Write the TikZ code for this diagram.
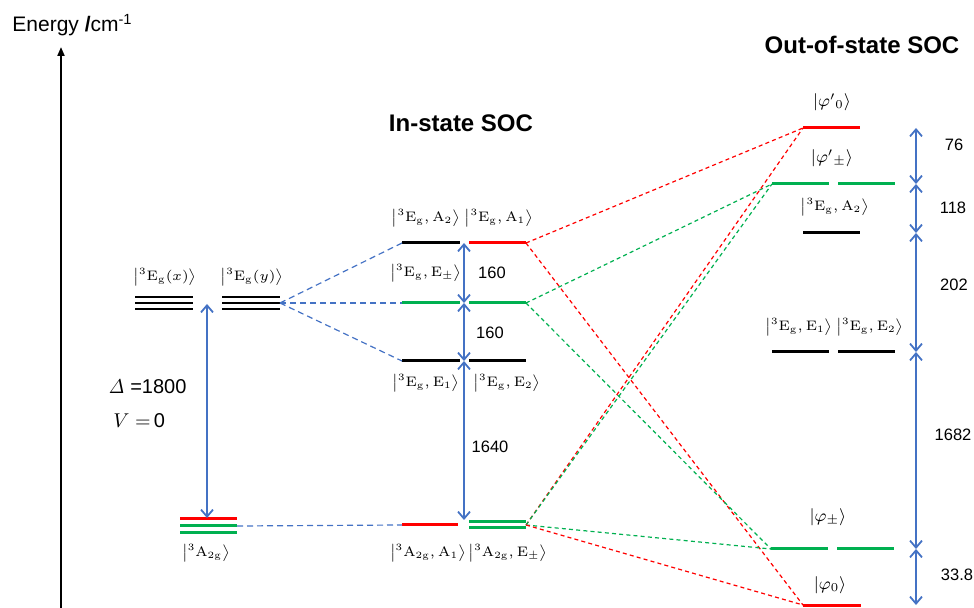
\RequirePackage{fix-cm}
\documentclass[tikz,border=0pt]{standalone}
\usepackage{exscale}
\usepackage[no-math]{fontspec}
\setmainfont{Liberation Sans}
\usetikzlibrary{arrows.meta,calc}
\definecolor{lvred}{RGB}{255,0,0}
\definecolor{lvgreen}{RGB}{0,176,80}
\definecolor{lvblue}{RGB}{68,114,196}
\newcommand{\stket}[1]{\ensuremath{\left|#1\right\rangle}}
\newcommand{\eg}{{}^{3}\mathrm{E}_{\mathrm{g}}}
\newcommand{\atg}{{}^{3}\mathrm{A}_{2\mathrm{g}}}
\tikzset{
  level/.style={line width=1.5pt},
  trilevel/.style={line width=1.2pt},
  gaparrow/.style={lvblue, line width=0.9pt,
    {Straight Barb[length=3.5pt,width=6pt]}-{Straight Barb[length=3.5pt,width=6pt]}},
  link/.style={line width=0.6pt, dash pattern=on 2pt off 1.6pt},
  bluelink/.style={lvblue, line width=0.6pt, dash pattern=on 3pt off 2pt},
  ketlabel/.style={font=\fontsize{6.9}{8.5}\selectfont, inner sep=0pt},
  phlabel/.style={font=\fontsize{8.6}{10}\selectfont, inner sep=0pt},
  num/.style={font=\fontsize{8.25}{10}\selectfont, inner sep=0pt},
  heading/.style={font=\fontsize{12}{14}\selectfont\bfseries, inner sep=0pt}
}
\begin{document}
\begin{tikzpicture}[x=0.5pt,y=-0.5pt]
\useasboundingbox (0,0) rectangle (974,608);

% energy axis
\coordinate (axisbot) at (61,610);
\coordinate (axistop) at (61,47);
\draw[line width=1pt, -{Triangle[length=4.5pt,width=3.5pt]}] (axisbot) -- (axistop);
\node[anchor=base west, inner sep=0pt, font=\fontsize{10.5}{12.5}\selectfont] (axislabel) at (12,32)
  {Energy \textbf{/}cm\textsuperscript{-1}};

% ---------- free-ion terms ----------
\coordinate (exL) at (135,303); \coordinate (exR) at (193,303);
\coordinate (eyL) at (222,303); \coordinate (eyR) at (280,303);
\foreach \d in {-6,0,6}{
  \draw[trilevel] ($(exL)+(0,\d)$) -- ($(exR)+(0,\d)$);
  \draw[trilevel] ($(eyL)+(0,\d)$) -- ($(eyR)+(0,\d)$);
}
\node[ketlabel] (lbex) at (165,277) {\stket{\eg(x)}};
\node[ketlabel] (lbey) at (252,277) {\stket{\eg(y)}};

\coordinate (agL) at (180,526); \coordinate (agR) at (237,526);
\draw[level, lvred]   ($(agL)+(0,-7)$) -- ($(agR)+(0,-7)$);
\draw[level, lvgreen] (agL) -- (agR);
\draw[level, lvgreen] ($(agL)+(0,7)$) -- ($(agR)+(0,7)$);
\node[ketlabel] (lbag) at (206,553) {\stket{\atg}};

\coordinate (dTop) at (207,304); \coordinate (dBot) at (207,518);
\draw[gaparrow] (dBot) -- (dTop);
\node[anchor=west, inner sep=0pt, font=\fontsize{10}{12}\selectfont] (lbdelta) at (108,387) {$\mathit{\Delta}$ =1800};
\node[anchor=west, inner sep=0pt, font=\fontsize{10}{12}\selectfont] (lbv) at (113,421) {$V=$\,0};

% ---------- in-state SOC ----------
\node[heading] (ttin) at (461,123) {In-state SOC};
\coordinate (mA2L) at (402,243); \coordinate (mA2R) at (460,243);
\coordinate (mA1L) at (469,243); \coordinate (mA1R) at (526,243);
\coordinate (mEaL) at (402,303); \coordinate (mEaR) at (460,303);
\coordinate (mEbL) at (469,303); \coordinate (mEbR) at (526,303);
\coordinate (mE1L) at (402,361); \coordinate (mE1R) at (460,361);
\coordinate (mE2L) at (469,361); \coordinate (mE2R) at (526,361);
\coordinate (gA1L) at (402,525); \coordinate (gA1R) at (458,525);
\coordinate (gEL)  at (469,525); \coordinate (gER)  at (526,525);

\draw[level] (mA2L) -- (mA2R);
\draw[level, lvred] (mA1L) -- (mA1R);
\draw[level, lvgreen] (mEaL) -- (mEaR);
\draw[level, lvgreen] (mEbL) -- (mEbR);
\draw[level] (mE1L) -- (mE1R);
\draw[level] (mE2L) -- (mE2R);
\draw[level, lvred] (gA1L) -- (gA1R);
\draw[level, lvgreen] ($(gEL)+(0,-3)$) -- ($(gER)+(0,-3)$);
\draw[level, lvgreen] ($(gEL)+(0,3)$) -- ($(gER)+(0,3)$);

\node[ketlabel] (lbmA2) at (426,218) {\stket{\eg,\mathrm{A}_2}};
\node[ketlabel] (lbmA1) at (499,218) {\stket{\eg,\mathrm{A}_1}};
\node[ketlabel] (lbmE)  at (426,273) {\stket{\eg,\mathrm{E}_{\pm}}};
\node[ketlabel] (lbmE1) at (426,383) {\stket{\eg,\mathrm{E}_1}};
\node[ketlabel] (lbmE2) at (507,383) {\stket{\eg,\mathrm{E}_2}};
\node[ketlabel] (lbgA1) at (428,553) {\stket{\atg,\mathrm{A}_1}};
\node[ketlabel] (lbgE)  at (508,553) {\stket{\atg,\mathrm{E}_{\pm}}};

\coordinate (mg1) at (464,243); \coordinate (mg2) at (464,303);
\coordinate (mg3) at (464,361); \coordinate (mg4) at (464,520);
\draw[gaparrow] (mg1) -- (mg2);
\draw[gaparrow] (mg2) -- (mg3);
\draw[gaparrow] (mg3) -- (mg4);
\node[num] (n160a) at (492,273) {160};
\node[num] (n160b) at (490,333) {160};
\node[num] (n1640) at (490,447) {1640};

% blue correlation lines
\draw[bluelink] (eyR) -- (mA2L);
\draw[bluelink] (eyR) -- (mEaL);
\draw[bluelink] (eyR) -- (mE1L);
\draw[bluelink] (agR) -- (gA1L);

% ---------- out-of-state SOC ----------
\node[heading] (ttout) at (862,45) {Out-of-state SOC};
\coordinate (p0pL) at (803,128); \coordinate (p0pR) at (860,128);
\coordinate (ppaL) at (772,184); \coordinate (ppaR) at (829,184);
\coordinate (ppbL) at (838,184); \coordinate (ppbR) at (895,184);
\coordinate (rA2L) at (803,233); \coordinate (rA2R) at (860,233);
\coordinate (rE1L) at (772,352); \coordinate (rE1R) at (829,352);
\coordinate (rE2L) at (838,352); \coordinate (rE2R) at (895,352);
\coordinate (pmaL) at (771,549); \coordinate (pmaR) at (828,549);
\coordinate (pmbL) at (837,549); \coordinate (pmbR) at (894,549);
\coordinate (p0L)  at (803,605); \coordinate (p0R)  at (861,605);

\draw[level, lvred] (p0pL) -- (p0pR);
\draw[level, lvgreen] (ppaL) -- (ppaR);
\draw[level, lvgreen] (ppbL) -- (ppbR);
\draw[level] (rA2L) -- (rA2R);
\draw[level] (rE1L) -- (rE1R);
\draw[level] (rE2L) -- (rE2R);
\draw[level, lvgreen] (pmaL) -- (pmaR);
\draw[level, lvgreen] (pmbL) -- (pmbR);
\draw[level, lvred] (p0L) -- (p0R);

\node[phlabel] (lbp0p) at (832,102) {$|\varphi'{}_{0}\rangle$};
\node[phlabel] (lbppm) at (832,158) {$|\varphi'{}_{\pm}\rangle$};
\node[ketlabel] (lbrA2) at (835,207) {\stket{\eg,\mathrm{A}_2}};
\node[ketlabel] (lbrE1) at (799,327) {\stket{\eg,\mathrm{E}_1}};
\node[ketlabel] (lbrE2) at (870,327) {\stket{\eg,\mathrm{E}_2}};
\node[phlabel] (lbpm)  at (828,517) {$|\varphi_{\pm}\rangle$};
\node[phlabel] (lbp0)  at (830,585) {$|\varphi_{0}\rangle$};

\coordinate (rg1) at (916,128); \coordinate (rg2) at (916,184);
\coordinate (rg3) at (916,233); \coordinate (rg4) at (916,352);
\coordinate (rg5) at (916,549); \coordinate (rg6) at (916,605);
\draw[gaparrow] (rg1) -- (rg2);
\draw[gaparrow] (rg2) -- (rg3);
\draw[gaparrow] (rg3) -- (rg4);
\draw[gaparrow] (rg4) -- (rg5);
\draw[gaparrow] (rg5) -- (rg6);
\node[num] (n76)   at (954,145) {76};
\node[num] (n118)  at (953,208) {118};
\node[num] (n202)  at (954,285) {202};
\node[num] (n1682) at (953,435) {1682};
\node[num] (n338)  at (957,575) {33.8};

% red and green correlation lines
\draw[link, lvred]   (mA1R) -- (p0pL);
\draw[link, lvred]   (mA1R) -- (p0L);
\draw[link, lvgreen] (mEbR) -- (ppaL);
\draw[link, lvgreen] (mEbR) -- (pmaL);
\draw[link, lvred]   (gER) -- (p0pL);
\draw[link, lvgreen] (gER) -- (ppaL);
\draw[link, lvgreen] (gER) -- (pmaL);
\draw[link, lvred]   (gER) -- (p0L);
\end{tikzpicture}
\end{document}
